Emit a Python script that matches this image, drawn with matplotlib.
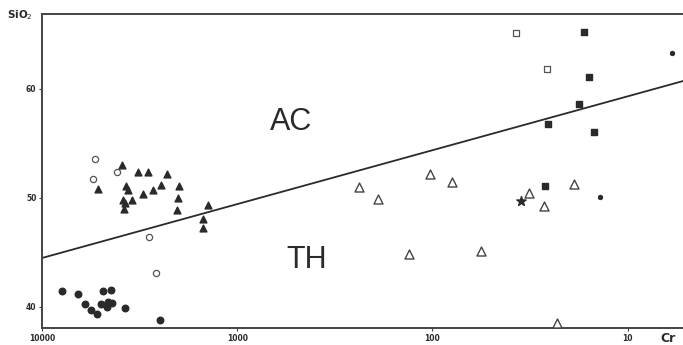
import numpy as np
import matplotlib.pyplot as plt

# Cr (ppm) vs SiO2 (wt%)
circ_full_cr = [7925, 6563, 6020, 5625, 5243, 4848, 4427, 4980, 4571, 4392, 4658, 4625, 3753, 2483]
circ_full_si = [41.44, 41.17, 40.25, 39.70, 39.30, 41.47, 41.53, 40.25, 40.43, 40.37, 39.94, 40.16, 39.91, 38.78]

circ_open_cr = [5348, 5454, 4110, 2827, 2612]
circ_open_si = [53.55, 51.72, 52.33, 46.42, 43.06]

tri_full_cr = [3903, 5181, 3208, 2871, 2277, 3709, 3635, 3829, 3753, 3442, 3784, 3024, 2686,
               2462, 1977, 2014, 2038, 1414, 1489, 1499]
tri_full_si = [53.0, 50.77, 52.33, 52.33, 52.15, 51.10, 50.71, 49.79, 49.49, 49.79, 48.96, 50.31, 50.71,
               51.17, 51.10, 50.0, 48.87, 49.33, 48.02, 47.19]

tri_open_cr = [236.8, 190.8, 102.4, 79.2, 32.1, 26.7, 18.9, 131.2, 56.5, 22.9]
tri_open_si = [51.01, 49.85, 52.15, 51.47, 50.40, 49.24, 51.23, 44.83, 45.14, 38.48]

star_cr = [35.0]
star_si = [49.70]

sq_full_cr = [16.7, 15.7, 17.7, 25.5, 14.8, 26.5]
sq_full_si = [65.2, 61.10, 58.57, 56.73, 56.03, 51.10]

sq_open_cr = [37.5, 25.8]
sq_open_si = [65.14, 61.78]

dot_cr = [5.90, 13.8]
dot_si = [63.30, 50.06]

# AC / TH dividing line
line_cr = [10000, 5.2]
line_si = [44.47, 60.7]

xticks = [10000, 1000, 100, 10]
xtick_labels = ["10000", "1000", "100", "10"]
yticks = [40, 50, 60]

ink = "#2a2a2a"

fig = plt.figure(figsize=(6.83, 3.45), dpi=100)
ax = fig.add_axes([0.0615, 0.0493, 0.9385, 0.9101])

ax.set_xscale("log")
ax.set_xlim(10000, 5.2)
ax.set_ylim(38.05, 66.85)

ax.plot(line_cr, line_si, color=ink, lw=1.3)

ax.scatter(circ_full_cr, circ_full_si, s=22, marker="o", color=ink, zorder=3)
ax.scatter(circ_open_cr, circ_open_si, s=20, marker="o", facecolors="white", edgecolors="#555555", linewidths=0.9, zorder=3)
ax.scatter(tri_full_cr, tri_full_si, s=24, marker="^", color=ink, zorder=3)
ax.scatter(tri_open_cr, tri_open_si, s=42, marker="^", facecolors="white", edgecolors="#444444", linewidths=1.0, zorder=3)
ax.scatter(star_cr, star_si, s=50, marker="*", color=ink, zorder=4)
ax.scatter(sq_full_cr, sq_full_si, s=20, marker="s", color=ink, zorder=3)
ax.scatter(sq_open_cr, sq_open_si, s=20, marker="s", facecolors="white", edgecolors="#555555", linewidths=0.9, zorder=3)
ax.scatter(dot_cr, dot_si, s=8, marker="o", color=ink, zorder=3)

ax.text(528, 56.94, "AC", fontsize=22, color=ink, ha="center", va="center", family="Liberation Sans")
ax.text(440, 44.28, "TH", fontsize=22, color=ink, ha="center", va="center", family="Liberation Sans")

for s in ["top", "left", "bottom"]:
    ax.spines[s].set_color("#444444")
    ax.spines[s].set_linewidth(1.4)
ax.spines["right"].set_visible(False)

ax.set_xticks(xticks)
ax.set_xticklabels(xtick_labels)
ax.minorticks_off()
ax.set_yticks(yticks)
ax.tick_params(axis="both", length=2, width=0.8, color="#444444", labelsize=5.5, pad=2)
for lab in ax.get_xticklabels() + ax.get_yticklabels():
    lab.set_fontweight("bold")
    lab.set_color(ink)

fig.text(0.029, 0.955, "SiO$_2$", fontsize=7.5, fontweight="bold", color=ink, ha="center", va="center")
fig.text(0.978, 0.02, "Cr", fontsize=9, fontweight="bold", color=ink, ha="center", va="center")

fig.savefig("out.png", dpi=100)
